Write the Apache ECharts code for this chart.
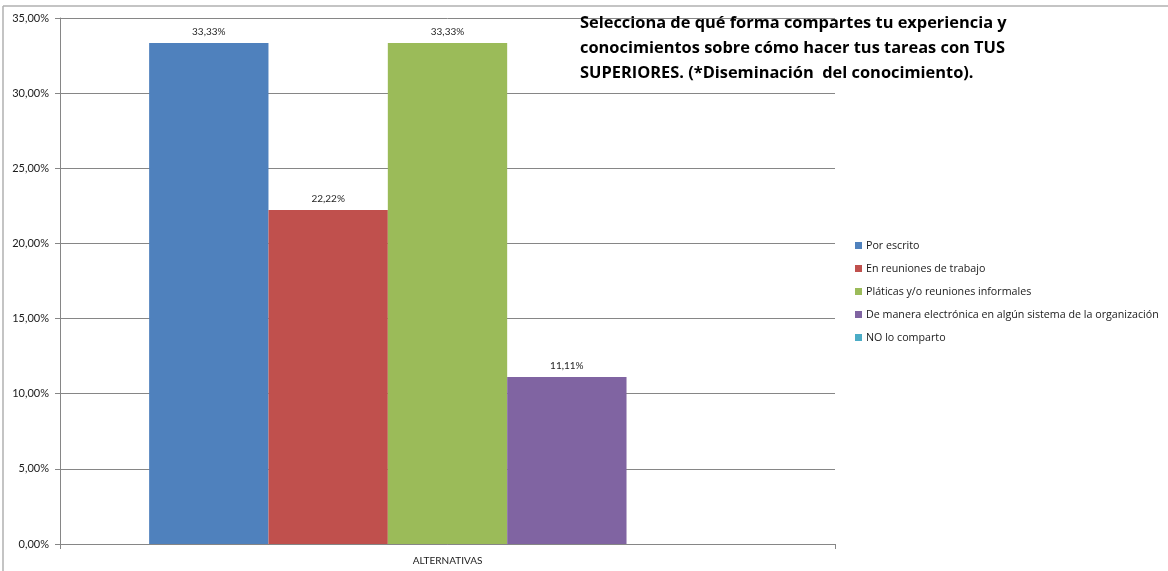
<!DOCTYPE html>
<html>
<head>
<meta charset="utf-8">
<style>
  html, body { margin: 0; padding: 0; background: #ffffff; }
  #chart { width: 1168px; height: 571px; }
</style>
<script src="https://cdn.jsdelivr.net/npm/echarts@6/dist/echarts.min.js"></script>
</head>
<body>
<div id="chart"></div>
<script>
// Survey answers: how knowledge is shared with superiors
const categories = ['ALTERNATIVAS'];
const seriesNames = [
  'Por escrito',
  'En reuniones de trabajo',
  'Pláticas y/o reuniones informales',
  'De manera electrónica en algún sistema de la organización',
  'NO lo comparto'
];
const seriesValues = [33.33, 22.22, 33.33, 11.11, 0];
const seriesColors = ['#4F81BD', '#C0504D', '#9BBB59', '#8064A2', '#4BACC6'];
const titleText = 'Selecciona de qué forma compartes tu experiencia y\nconocimientos sobre cómo hacer tus tareas con TUS\nSUPERIORES. (*Diseminación  del conocimiento).';

const FONT = 'Lato, "Open Sans", sans-serif';
const WIDE = '"Open Sans", Lato, sans-serif';
const pct = v => v.toFixed(2).replace('.', ',') + '%';

const chart = echarts.init(document.getElementById('chart'), null, { renderer: 'canvas' });

const series = seriesNames.map((name, i) => ({
  name: name,
  type: 'bar',
  data: [seriesValues[i]],
  barGap: '0%',
  barCategoryGap: '23%',
  itemStyle: { color: seriesColors[i] },
  label: {
    show: seriesValues[i] > 0,
    position: 'top',
    distance: 6,
    formatter: p => pct(p.value),
    fontFamily: FONT,
    fontSize: 10,
    color: '#262626'
  },
  emphasis: { disabled: true }
}));

chart.setOption({
  animation: false,
  backgroundColor: '#ffffff',
  title: {
    text: titleText,
    left: 580,
    top: 11,
    padding: 0,
    textStyle: {
      fontFamily: WIDE,
      fontSize: 16.4,
      fontWeight: 'bold',
      color: '#000000',
      lineHeight: 25
    }
  },
  legend: {
    orient: 'vertical',
    left: 850,
    top: 235,
    itemWidth: 7,
    itemHeight: 7,
    itemGap: 12,
    icon: 'rect',
    textStyle: { fontFamily: WIDE, fontSize: 10.7, color: '#1a1a1a', padding: [0, 0, 0, -1] },
    data: seriesNames
  },
  grid: { left: 60, right: 333, top: 18, bottom: 27, containLabel: false },
  xAxis: {
    type: 'category',
    data: categories,
    axisLine: { lineStyle: { color: '#868686' } },
    axisTick: { show: true, length: 5, lineStyle: { color: '#868686' } },
    axisLabel: { fontFamily: FONT, fontSize: 10, color: '#1a1a1a', margin: 12 }
  },
  yAxis: {
    type: 'value',
    min: 0,
    max: 35,
    interval: 5,
    axisLine: { show: true, lineStyle: { color: '#868686' } },
    axisTick: { show: true, length: 5, lineStyle: { color: '#868686' } },
    axisLabel: { fontFamily: FONT, fontSize: 11, color: '#1a1a1a', margin: 11, formatter: v => pct(v) },
    splitLine: { lineStyle: { color: '#868686', width: 1 } }
  },
  graphic: [
    { type: 'line', shape: { x1: 3, y1: 6, x2: 1168, y2: 6 }, style: { stroke: '#b0b0b0', lineWidth: 1.5 }, z: -1 },
    { type: 'line', shape: { x1: 3, y1: 6, x2: 3, y2: 571 }, style: { stroke: '#b0b0b0', lineWidth: 1.5 }, z: -1 }
  ],
  series: series
});
</script>
</body>
</html>
